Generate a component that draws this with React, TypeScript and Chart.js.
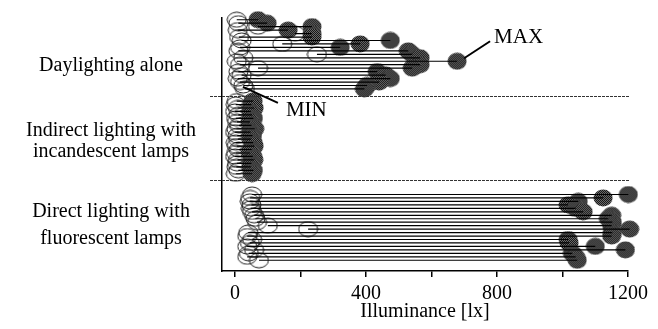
import React, { useEffect, useRef } from 'react';
import { Chart, registerables } from 'chart.js';

Chart.register(...registerables);

// ---- Data (illuminance in lx), one row per measurement: min (open) / max (filled)
const dayMin = [5, 10, 70, 8, 183, 12, 20, 144, 15, 10, 250, 25, 5, 15, 70, 10, 20, 8, 15, 25, 30];
const dayMax = [70, 98, 235, 162, 235, 235, 474, 382, 321, 529, 541, 565, 678, 565, 541, 434, 460, 474, 440, 403, 395];

const indMin = [5, 2, 8, 0, 10, 3, 6, 12, 4, 0, 7, 9, 2, 5, 11, 3, 0, 8, 6, 4, 10, 2];
const indMax = [55, 50, 58, 48, 52, 56, 45, 50, 60, 47, 53, 49, 55, 58, 51, 46, 54, 57, 50, 48, 56, 52];

const dirMin = [52, 46, 45, 50, 48, 52, 58, 62, 67, 100, 223, 40, 37, 52, 45, 37, 58, 42, 37, 73];
const dirMax = [1201, 1124, 1048, 1017, 1040, 1063, 1150, 1140, 1152, 1150, 1205, 1152, 1150, 1017, 1020, 1100, 1192, 1030, 1040, 1045];

// first row index of each group on the (reversed) row scale
const groupStartRow = [0.5, 24, 51];
const groupBoundaries = [22.4, 46.9];
const rowAxisMax = 73.1;

// group label lines and the row where each line sits
const labelLines = ['Daylighting alone', 'Indirect lighting with', 'incandescent lamps', 'Direct lighting with', 'fluorescent lamps'];
const labelRows = [13.9, 32.7, 38.7, 56.1, 63.9];

const xTickValues = [0, 200, 400, 600, 800, 1000, 1200];
const xTickLabels = ['0', '', '400', '', '800', '', '1200'];
const xMin = -40;
const xMax = 1200;
const xTitle = 'Illuminance [lx]';

const FONT = "'Liberation Serif', 'Times New Roman', serif";

function makeOpenMarker(): HTMLCanvasElement {
  const c = document.createElement('canvas');
  c.width = 21;
  c.height = 17;
  const g = c.getContext('2d')!;
  g.strokeStyle = '#222';
  g.lineWidth = 1;
  g.beginPath();
  g.ellipse(10.5, 8.5, 9.5, 7.5, 0, 0, Math.PI * 2);
  g.stroke();
  return c;
}

function makeFilledMarker(): HTMLCanvasElement {
  const c = document.createElement('canvas');
  c.width = 20;
  c.height = 18;
  const g = c.getContext('2d')!;
  const p = document.createElement('canvas');
  p.width = 2;
  p.height = 2;
  const pg = p.getContext('2d')!;
  pg.fillStyle = '#777';
  pg.fillRect(0, 0, 2, 2);
  pg.fillStyle = '#0a0a0a';
  pg.fillRect(0, 0, 1, 1);
  pg.fillRect(1, 1, 1, 1);
  g.fillStyle = g.createPattern(p, 'repeat')!;
  g.beginPath();
  g.ellipse(10, 9, 9.5, 8.5, 0, 0, Math.PI * 2);
  g.fill();
  return c;
}

export default function App() {
  const ref = useRef<HTMLCanvasElement>(null);

  useEffect(() => {
    const groups = [
      { mins: dayMin, maxs: dayMax },
      { mins: indMin, maxs: indMax },
      { mins: dirMin, maxs: dirMax },
    ];
    const minPts: { x: number; y: number }[] = [];
    const maxPts: { x: number; y: number }[] = [];
    const segs: { x: number | null; y: number | null }[] = [];
    groups.forEach((g, gi) => {
      g.mins.forEach((mn, i) => {
        const row = groupStartRow[gi] + i;
        const mx = g.maxs[i];
        minPts.push({ x: mn, y: row });
        maxPts.push({ x: mx, y: row });
        segs.push({ x: mn, y: row }, { x: mx, y: row }, { x: null, y: null });
      });
    });

    let dayMaxIdx = 0;
    dayMax.forEach((v, i) => {
      if (v > dayMax[dayMaxIdx]) dayMaxIdx = i;
    });
    const dayMinIdx = dayMin.length - 1;

    const decor = {
      id: 'decor',
      afterDatasetsDraw(chart: any) {
        const { ctx, chartArea, scales } = chart;
        ctx.save();
        // dotted group separators
        ctx.strokeStyle = '#333';
        ctx.lineWidth = 1;
        ctx.setLineDash([3, 1]);
        groupBoundaries.forEach((b) => {
          const y = Math.round(scales.y.getPixelForValue(b)) + 0.5;
          ctx.beginPath();
          ctx.moveTo(chartArea.left - 12, y);
          ctx.lineTo(chartArea.right + 1, y);
          ctx.stroke();
        });
        ctx.setLineDash([]);
        // MAX / MIN annotations
        const filled = chart.getDatasetMeta(1).data[dayMaxIdx];
        const open = chart.getDatasetMeta(2).data[dayMinIdx];
        ctx.strokeStyle = '#000';
        ctx.lineWidth = 2;
        ctx.beginPath();
        ctx.moveTo(filled.x + 7, filled.y - 3);
        ctx.lineTo(filled.x + 33, filled.y - 20);
        ctx.stroke();
        ctx.beginPath();
        ctx.moveTo(open.x - 2, open.y - 2);
        ctx.lineTo(open.x + 33, open.y + 14);
        ctx.stroke();
        ctx.fillStyle = '#000';
        ctx.font = `21px ${FONT}`;
        ctx.textAlign = 'left';
        ctx.textBaseline = 'middle';
        ctx.fillText('MAX', filled.x + 37, filled.y - 24);
        ctx.fillText('MIN', open.x + 41, open.y + 22);
        ctx.restore();
      },
    };

    const openMarker = makeOpenMarker();
    const filledMarker = makeFilledMarker();

    const chart = new Chart(ref.current!, {
      type: 'scatter',
      data: {
        datasets: [
          {
            label: 'range',
            data: segs as any,
            showLine: true,
            borderColor: '#000',
            borderWidth: 1.2,
            pointRadius: 0,
            spanGaps: false,
            clip: false as any,
            order: 0,
          },
          {
            label: 'MAX',
            data: maxPts,
            pointStyle: filledMarker as any,
            pointRadius: 9,
            backgroundColor: '#333',
            borderColor: '#333',
            clip: false as any,
            order: 1,
          },
          {
            label: 'MIN',
            data: minPts,
            pointStyle: openMarker as any,
            pointRadius: 9,
            backgroundColor: 'transparent',
            borderColor: '#222',
            clip: false as any,
            order: 2,
          },
        ],
      },
      options: {
        animation: false,
        responsive: false,
        devicePixelRatio: 1,
        layout: { padding: { top: 18, right: 30, left: 0, bottom: 0 } },
        plugins: { legend: { display: false }, tooltip: { enabled: false } },
        font: { family: FONT },
        scales: {
          x: {
            type: 'linear',
            min: xMin,
            max: xMax,
            afterFit: (s: any) => {
              s.height = 58;
              s.paddingLeft = 0;
              s.paddingRight = 0;
            },
            afterBuildTicks: (s: any) => {
              s.ticks = xTickValues.map((v) => ({ value: v }));
            },
            ticks: {
              autoSkip: false,
              maxRotation: 0,
              color: '#000',
              padding: 5,
              font: { family: FONT, size: 20 },
              callback: (_v: any, i: number) => xTickLabels[i],
            },
            grid: {
              display: true,
              drawOnChartArea: false,
              drawTicks: true,
              tickLength: 6,
              color: '#000',
              lineWidth: 1.5,
            },
            border: { display: true, color: '#000', width: 1.5 },
            title: {
              display: true,
              text: xTitle,
              color: '#000',
              font: { family: FONT, size: 20 },
              padding: { top: 0, bottom: 5 },
            },
          },
          y: {
            type: 'linear',
            min: 0,
            max: rowAxisMax,
            reverse: true,
            afterFit: (s: any) => {
              s.width = 222;
              s.paddingTop = 0;
              s.paddingBottom = 0;
            },
            afterBuildTicks: (s: any) => {
              s.ticks = labelRows.map((v) => ({ value: v }));
            },
            ticks: {
              autoSkip: false,
              color: '#000',
              crossAlign: 'center',
              padding: 26,
              font: { family: FONT, size: 20 },
              callback: (_v: any, i: number) => labelLines[i],
            },
            grid: { display: false, drawTicks: false },
            border: { display: true, color: '#000', width: 1.5 },
          },
        },
      },
      plugins: [decor],
    });
    return () => chart.destroy();
  }, []);

  return (
    <canvas
      ref={ref}
      width={658}
      height={329}
      style={{ position: 'fixed', left: 0, top: 0, width: 658, height: 329, background: '#fff' }}
    />
  );
}
